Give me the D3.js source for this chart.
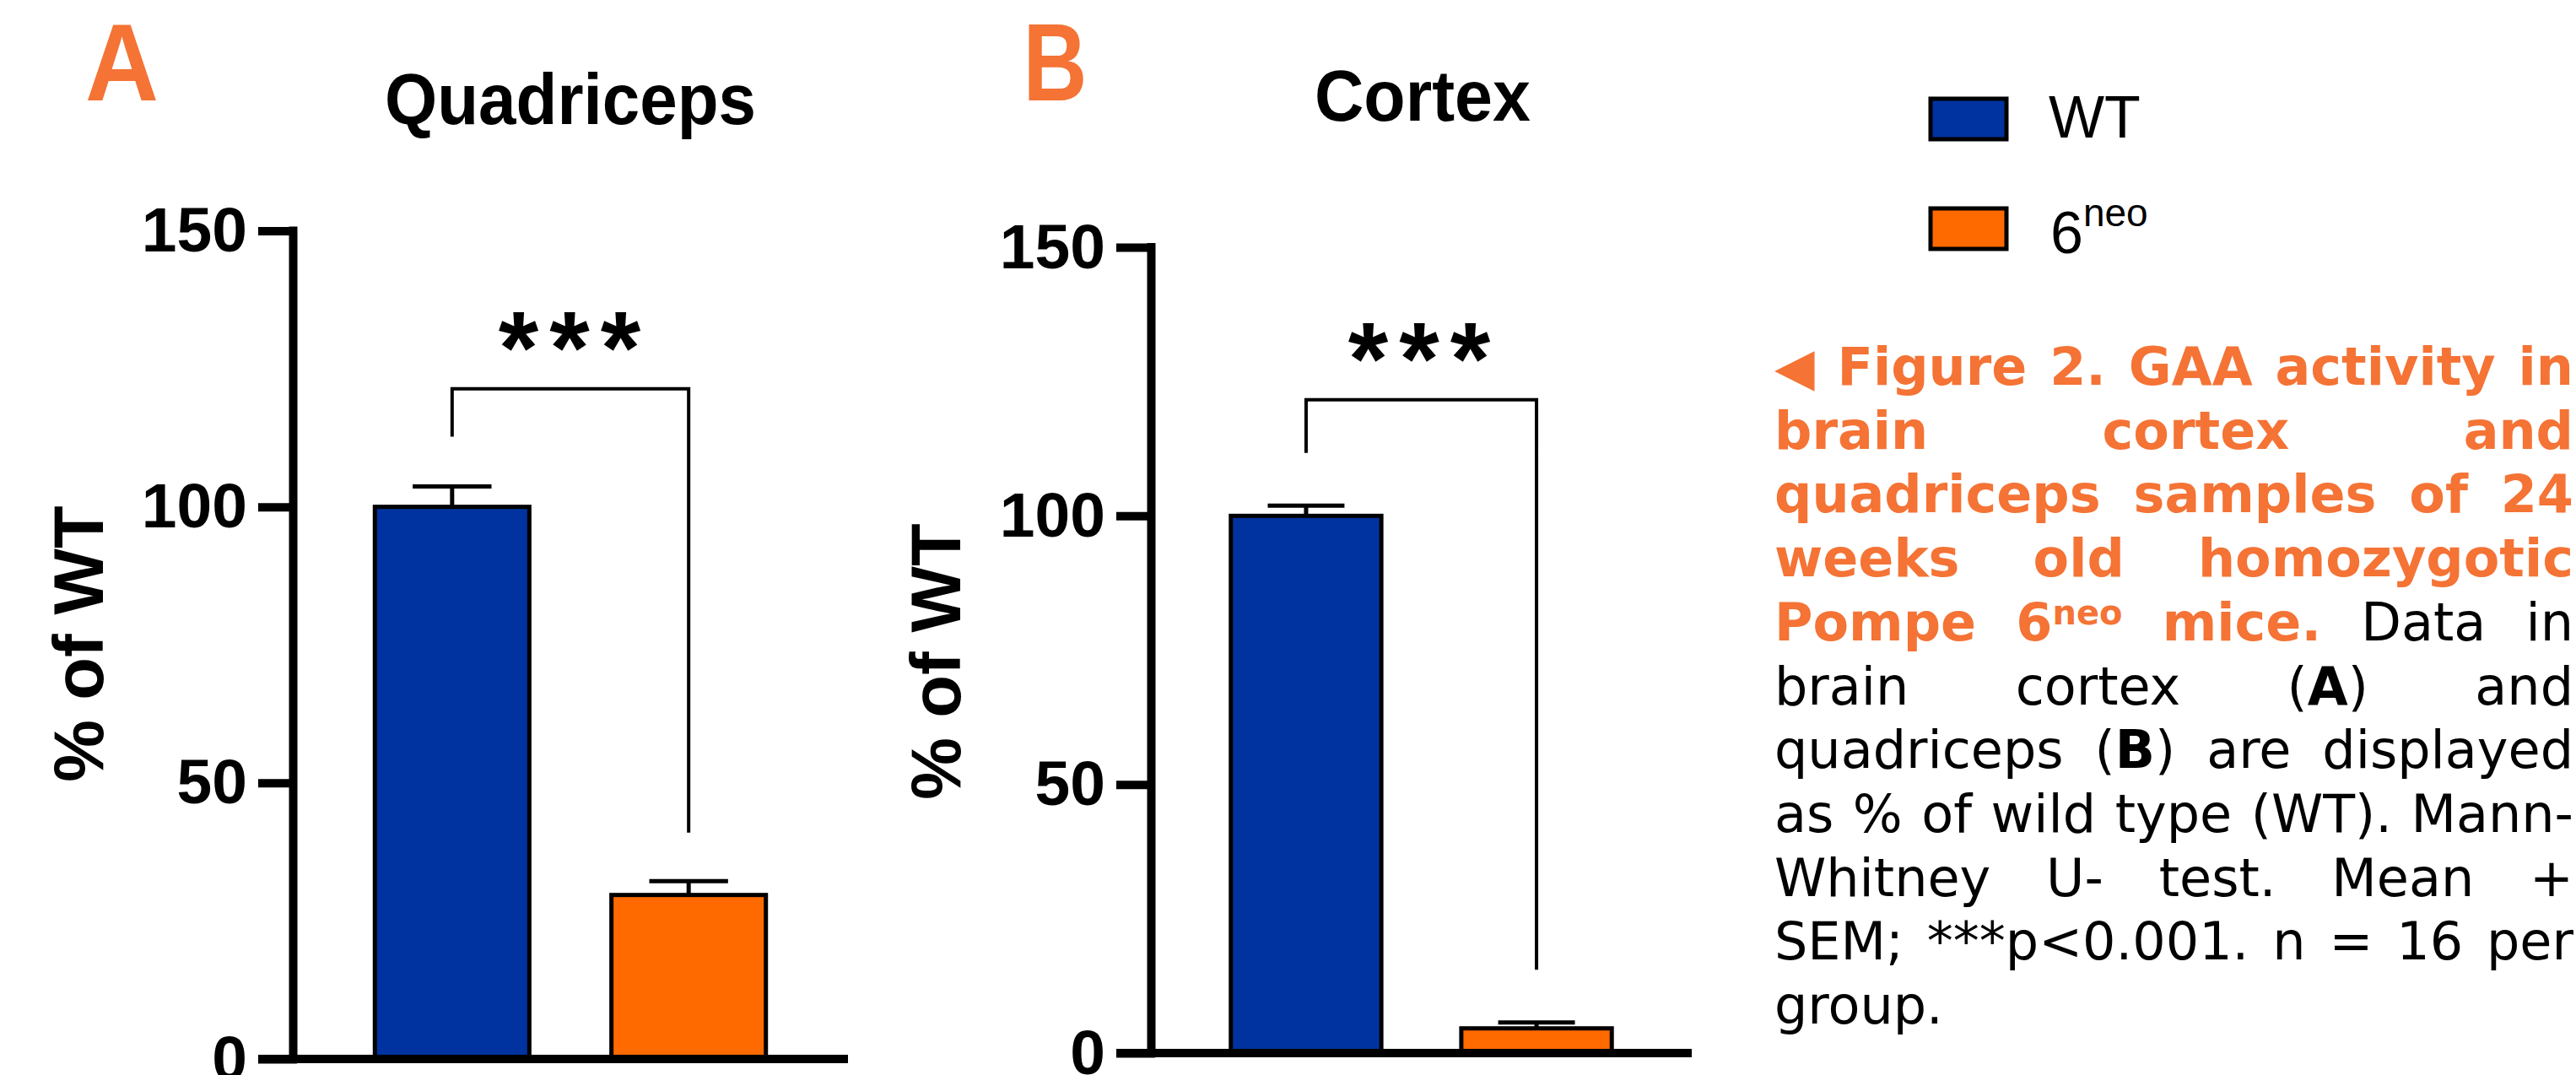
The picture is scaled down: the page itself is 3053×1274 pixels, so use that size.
<!DOCTYPE html>
<html><head><meta charset="utf-8">
<script src="https://cdn.jsdelivr.net/npm/d3@7"></script>
<style>html,body{margin:0;padding:0;background:#fff;overflow:hidden} svg{display:block}</style>
</head><body>
<svg id="chart" width="3053" height="1274"></svg>
<script>
// ---------------- data ----------------
const categories = ["WT", "6neo"];
const panelTitles = ["Quadriceps", "Cortex"];
const panelLetters = ["A", "B"];
const quadMean = [100, 29.7];
const quadSEM = [3.7, 2.5];
const cortexMean = [100, 4.6];
const cortexSEM = [1.9, 1.1];
const yTicks = [0, 50, 100, 150];
const sigLabel = "***";
const yTitle = "% of WT";

// ---------------- styles ----------------
const BLUE = "#0033A0", ORANGE_BAR = "#FF6A00", ORANGE_TXT = "#F47335";
const colors = [BLUE, ORANGE_BAR];
const SANS = "'Liberation Sans', Arial, Helvetica, sans-serif";
const CAP_FONT = "'DejaVu Sans', Verdana, sans-serif";

const svg = d3.select("#chart");

const panels = [
  {mean: quadMean, sem: quadSEM, x0: 347, x1: 1005, yB: 1255, yT: 273.5,
   titleX: 676, titleY: 147, titleW: 440, letterX: 144.5, letterW: 87,
   yLabX: 122, yLabY: 763, brTop: 121.4, brL: 112.7, brR: 41.0, starBase: 454, starX: 675},
  {mean: cortexMean, sem: cortexSEM, x0: 1364, x1: 2005, yB: 1248, yT: 293,
   titleX: 1686, titleY: 143, titleW: 256, letterX: 1250.5, letterW: 76,
   yLabX: 1138, yLabY: 784, brTop: 121.6, brL: 111.7, brR: 15.5, starBase: 467, starX: 1682}
];

panels.forEach((p, i) => {
  const g = svg.append("g");
  const y = d3.scaleLinear().domain([0, d3.max(yTicks)]).range([p.yB, p.yT]);
  const x = d3.scaleBand().domain(categories).range([p.x0, p.x1]).paddingInner(0.347).paddingOuter(0.347);
  const rows = categories.map((c, j) => ({c, m: p.mean[j], s: p.sem[j], col: colors[j]}));

  // bars
  g.selectAll("rect.bar").data(rows).join("rect").attr("class", "bar")
    .attr("x", d => x(d.c)).attr("width", x.bandwidth())
    .attr("y", d => y(d.m)).attr("height", d => y(0) - y(d.m))
    .attr("fill", d => d.col).attr("stroke", "#000").attr("stroke-width", 5);

  // error bars (mean + SEM)
  const cx = d => x(d.c) + x.bandwidth() / 2;
  const capHalf = x.bandwidth() * 0.255;
  g.selectAll("line.err").data(rows).join("line").attr("class", "err")
    .attr("x1", cx).attr("x2", cx).attr("y1", d => y(d.m)).attr("y2", d => y(d.m + d.s))
    .attr("stroke", "#000").attr("stroke-width", 5);
  g.selectAll("line.cap").data(rows).join("line").attr("class", "cap")
    .attr("x1", d => cx(d) - capHalf).attr("x2", d => cx(d) + capHalf)
    .attr("y1", d => y(d.m + d.s)).attr("y2", d => y(d.m + d.s))
    .attr("stroke", "#000").attr("stroke-width", 5);

  // significance bracket
  const xa = cx(rows[0]), xb = cx(rows[1]);
  g.append("path")
    .attr("d", `M${xa},${y(p.brL)}V${y(p.brTop)}H${xb}V${y(p.brR)}`)
    .attr("fill", "none").attr("stroke", "#000").attr("stroke-width", 4);
  const ls = 13;
  g.append("text").text(sigLabel)
    .attr("x", p.starX + ls / 2).attr("y", p.starBase)
    .attr("text-anchor", "middle").attr("font-family", SANS).attr("font-weight", "bold")
    .attr("font-size", 122).attr("letter-spacing", ls).attr("fill", "#000");

  // y axis
  const yAxis = d3.axisLeft(y).tickValues(yTicks).tickSize(36).tickPadding(18).tickSizeOuter(0);
  const ax = g.append("g").attr("transform", `translate(${p.x0},0)`).call(yAxis);
  ax.select(".domain").remove();
  ax.attr("font-family", SANS).attr("font-size", 75).attr("font-weight", "bold");
  ax.selectAll(".tick line").attr("stroke", "#000").attr("stroke-width", 10).attr("stroke-linecap", "square");
  ax.selectAll(".tick text").attr("fill", "#000");
  ax.append("line").attr("x1", 0.5).attr("x2", 0.5).attr("y1", y(d3.max(yTicks))).attr("y2", y(0))
    .attr("stroke", "#000").attr("stroke-width", 10).attr("stroke-linecap", "square");
  // x axis baseline
  g.append("line").attr("x1", p.x0 - 41).attr("x2", p.x1).attr("y1", y(0)).attr("y2", y(0))
    .attr("stroke", "#000").attr("stroke-width", 10);

  // y title
  g.append("text").text(yTitle)
    .attr("transform", `translate(${p.yLabX},${p.yLabY}) rotate(-90)`)
    .attr("text-anchor", "middle").attr("font-family", SANS).attr("font-weight", "bold")
    .attr("font-size", 83).attr("fill", "#000");

  // panel title
  g.append("text").text(panelTitles[i])
    .attr("x", p.titleX - p.titleW / 2).attr("y", p.titleY)
    .attr("textLength", p.titleW).attr("lengthAdjust", "spacingAndGlyphs")
    .attr("font-family", SANS).attr("font-weight", "bold").attr("font-size", 86).attr("fill", "#000");

  // panel letter
  g.append("text").text(panelLetters[i])
    .attr("x", p.letterX - p.letterW / 2).attr("y", 119)
    .attr("textLength", p.letterW).attr("lengthAdjust", "spacingAndGlyphs")
    .attr("font-family", SANS).attr("font-weight", "bold").attr("font-size", 130).attr("fill", ORANGE_TXT);
});

// ---------------- legend ----------------
const leg = svg.append("g");
const legendRows = categories.map((c, j) => ({c, col: colors[j], y: [117, 247][j]}));
leg.selectAll("rect").data(legendRows).join("rect")
  .attr("x", 2288).attr("y", d => d.y).attr("width", 90).attr("height", 48)
  .attr("fill", d => d.col).attr("stroke", "#000").attr("stroke-width", 5);
leg.append("text").attr("x", 2428).attr("y", 163).attr("font-family", SANS)
  .attr("font-size", 70).attr("fill", "#000").text("WT");
const t6 = leg.append("text").attr("x", 2430).attr("y", 300).attr("font-family", SANS)
  .attr("font-size", 70).attr("fill", "#000");
t6.append("tspan").text("6");
t6.append("tspan").text("neo").attr("font-size", 46).attr("dy", -32);

// ---------------- caption ----------------
const O = "o", R = "r", B = "b", OS = "os";
const captionLines = [
  [[["◀", O]], [["Figure", O]], [["2.", O]], [["GAA", O]], [["activity", O]], [["in", O]]],
  [[["brain", O]], [["cortex", O]], [["and", O]]],
  [[["quadriceps", O]], [["samples", O]], [["of", O]], [["24", O]]],
  [[["weeks", O]], [["old", O]], [["homozygotic", O]]],
  [[["Pompe", O]], [["6", O], ["neo", OS]], [["mice.", O]], [["Data", R]], [["in", R]]],
  [[["brain", R]], [["cortex", R]], [["(", R], ["A", B], [")", R]], [["and", R]]],
  [[["quadriceps", R]], [["(", R], ["B", B], [")", R]], [["are", R]], [["displayed", R]]],
  [[["as", R]], [["%", R]], [["of", R]], [["wild", R]], [["type", R]], [["(WT).", R]], [["Mann-", R]]],
  [[["Whitney", R]], [["U-", R]], [["test.", R]], [["Mean", R]], [["+", R]]],
  [[["SEM;", R]], [["***p<0.001.", R]], [["n", R]], [["=", R]], [["16", R]], [["per", R]]],
  [[["group.", R]]]
];
const capX0 = 2103, capX1 = 3050, capY0 = 456, capDy = 75.7, capFS = 62;
const cap = svg.append("g").attr("font-family", CAP_FONT).attr("font-size", capFS);
captionLines.forEach((words, li) => {
  const by = capY0 + li * capDy;
  const nodes = words.map(runs => {
    const t = cap.append("text").attr("y", by);
    runs.forEach(([txt, st]) => {
      const ts = t.append("tspan").text(txt);
      if (st === O || st === OS) ts.attr("fill", ORANGE_TXT).attr("font-weight", "bold");
      else if (st === B) ts.attr("fill", "#000").attr("font-weight", "bold");
      else ts.attr("fill", "#000");
      if (st === OS) ts.attr("font-size", 40).attr("dy", -19);
    });
    return t;
  });
  const widths = nodes.map(n => n.node().getComputedTextLength());
  const total = d3.sum(widths);
  const last = li === captionLines.length - 1;
  const gap = (last || words.length < 2) ? capFS * 0.3 : (capX1 - capX0 - total) / (words.length - 1);
  let xx = capX0;
  nodes.forEach((n, k) => { n.attr("x", xx); xx += widths[k] + gap; });
});
</script>
</body></html>
